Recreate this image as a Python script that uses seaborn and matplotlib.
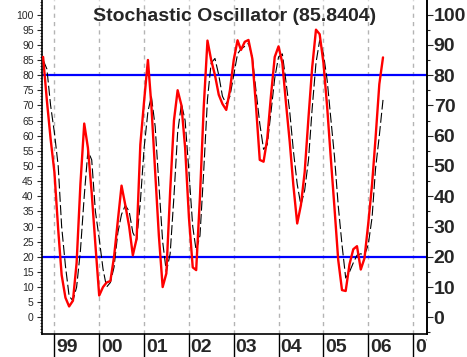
import numpy as np
import pandas as pd
import matplotlib
matplotlib.use('Agg')
import matplotlib.pyplot as plt
from matplotlib.ticker import MultipleLocator
import seaborn as sns

# monthly readings, Oct 1998 .. May 2006
dates = pd.date_range('1998-10-01', periods=92, freq='MS')
pct_k = [86, 71.5, 59, 48, 29, 14, 6.5, 3.6, 5.5, 18, 44, 64,
         56, 41, 24, 7.2, 10, 11.5, 12, 20, 32, 43.5, 37, 30,
         20.5, 26, 57, 71.5, 85, 70, 48, 27, 10, 14.5, 41.6, 65,
         75, 70, 56, 33, 16.5, 15.6, 40, 69, 91.4, 85, 80, 73.5,
         70.5, 68.5, 75, 85, 91.5, 88.3, 91, 91.6, 85.5, 70, 52, 51.4,
         59, 73.5, 86, 89.5, 84, 71, 58, 43.5, 31, 37, 48, 66,
         82.5, 95, 93.5, 84, 69, 53, 36, 19, 9, 8.7, 17.5, 22.5,
         23.5, 15.8, 19.5, 31, 44, 59, 77, 85.84]
pct_d = [85, 82, 70, 61, 50, 30, 17, 7, 5.5, 10, 22, 40,
         55, 52, 35, 26, 16, 10, 11.5, 16.6, 28, 34, 37, 35,
         28, 25.5, 38, 56, 68, 73, 63, 44, 25, 15, 21, 40,
         61, 70.5, 65, 48, 30, 22, 27, 48, 72, 84, 85.5, 80,
         73, 70.5, 73, 80, 87, 88.6, 89.5, 90.5, 86, 75, 64, 55.5,
         57, 68, 79, 86, 87, 78, 68, 55, 44, 37, 42, 52,
         69, 84, 91.5, 87, 78, 66, 53, 37, 24, 13, 15, 18,
         20.5, 21, 20.5, 24, 33, 49, 60, 71.8]
year_labels = ['99', '00', '01', '02', '03', '04', '05', '06', '07']
year_starts = pd.to_datetime([f'{y}-01-01' for y in range(1999, 2008)])
levels = [80, 20]
last_value = 85.8404

df = pd.DataFrame({'date': dates, 'k': pct_k, 'd': pct_d})

sns.set_style('white')
plt.rcParams['font.family'] = ['Liberation Sans', 'DejaVu Sans']

W, H = 467, 357
fig = plt.figure(figsize=(W / 100, H / 100), dpi=100)
left, right, axbot = 42, 426.7, 334
ax = fig.add_axes([left / W, (H - axbot) / H, (right - left) / W, axbot / H])
strip = fig.add_axes([left / W, 0, (right - left) / W, (H - axbot) / H])

xmin, xmax = pd.Timestamp('1998-09-22'), pd.Timestamp('2007-04-22')
ymin, ymax = -5.5, 104.8

for d in year_starts:
    ax.axvline(d, color='#b4b4b4', lw=1, ls=(0, (3, 3)), zorder=1)
for lv in levels:
    ax.axhline(lv, color='#0000ff', lw=1.6, zorder=2)

sns.lineplot(data=df, x='date', y='d', ax=ax, color='black', lw=0.8,
             linestyle=(0, (9, 3)), zorder=3)
sns.lineplot(data=df, x='date', y='k', ax=ax, color='#ff0000', lw=1.7, zorder=4)

ax.set_xlim(xmin, xmax)
ax.set_ylim(ymin, ymax)
ax.set_xlabel('')
ax.set_ylabel('')
ax.set_xticks([])
ax.set_yticks(range(0, 101, 5))
ax.yaxis.set_minor_locator(MultipleLocator(1))
ax.tick_params(axis='y', which='major', direction='out', length=3.5, width=0.8,
               labelsize=7.5, pad=2.5, left=True)
ax.tick_params(axis='y', which='minor', direction='out', length=1.5, width=0.6, left=True)
ax.spines['top'].set_visible(False)
for s in ['left', 'right', 'bottom']:
    ax.spines[s].set_color('black')
    ax.spines[s].set_linewidth(1.2)

ax2 = ax.twinx()
ax2.set_ylim(ymin, ymax)
ax2.set_yticks(range(0, 101, 10))
ax2.yaxis.set_minor_locator(MultipleLocator(5))
ax2.tick_params(axis='y', which='major', direction='out', length=4.5, width=0.8,
                labelsize=14, pad=0.5, right=True)
ax2.tick_params(axis='y', which='minor', direction='out', length=2.5, width=0.8, right=True)
for lab in ax2.get_yticklabels():
    lab.set_fontweight('bold')
for s in ['top', 'left', 'bottom']:
    ax2.spines[s].set_visible(False)
ax2.spines['right'].set_color('black')
ax2.spines['right'].set_linewidth(1.2)

ax.text(0.5, 1 - 21 / axbot, f'Stochastic Oscillator ({last_value})',
        transform=ax.transAxes, ha='center', va='baseline',
        fontsize=14, fontweight='bold', zorder=5)

strip.set_xlim(xmin, xmax)
strip.set_ylim(0, 1)
strip.axis('off')
for d, lab in zip(year_starts, year_labels):
    strip.axvline(d, color='black', lw=1)
    strip.text(d + pd.Timedelta(days=14), 0.42, lab, ha='left', va='center',
               fontsize=14, fontweight='bold', clip_on=True)

fig.savefig('out.png', dpi=100)
